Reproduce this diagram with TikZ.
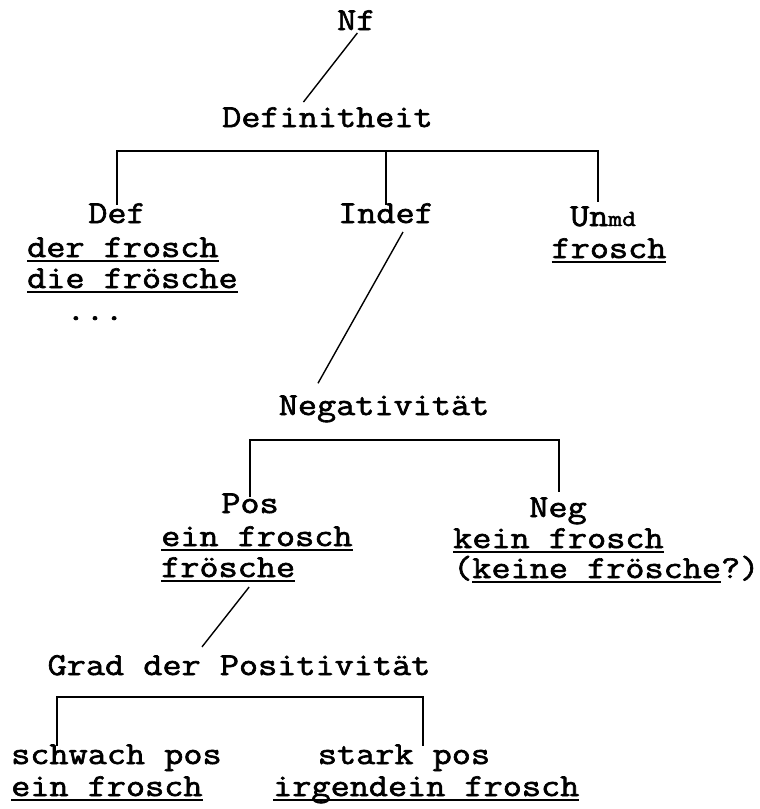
\documentclass[tikz,border=0pt]{standalone}
\usepackage{fontspec}
\newfontfamily\tw[FakeBold=2,FakeStretch=1.161]{Latin Modern Mono}
\newcommand\myul[1]{\setbox0=\hbox{#1}\rlap{\rule[-5pt]{\wd0}{1.6pt}}\box0}
\begin{document}
\begin{tikzpicture}[x=1pt,y=-1pt,
  tl/.style={inner sep=0pt,anchor=base west,font=\tw\fontsize{32}{33}\selectfont},
  tc/.style={inner sep=0pt,anchor=base,font=\tw\fontsize{32}{33}\selectfont},
  br/.style={line width=2.6pt},
  dg/.style={line width=1.4pt}]
\useasboundingbox (0,0) rectangle (760,809);
% nodes
\node[tl] (nf) at (337,30) {Nf};
\node[tl] (defh) at (222,127) {Definitheit};
\node[tc] (def) at (117,223) {Def};
\node[tl] (def1) at (27,257) {\myul{der frosch}};
\node[tl] (def2) at (27,288) {\myul{die frösche}};
\node[tc] (dots) at (95,320) {...};
\node[tc] (indef) at (386,223) {Indef};
\node[tc] (unmd) at (603,226) {Un{\fontsize{23}{23}\selectfont md}};
\node[tc] (unmd1) at (609,258) {\myul{frosch}};
\node[tc] (negh) at (384,415) {Negativität};
\node[tc] (pos) at (250,513) {Pos};
\node[tl] (pos1) at (161,546) {\myul{ein frosch}};
\node[tl] (pos2) at (161,577) {\myul{frösche}};
\node[tc] (neg) at (558,517) {Neg};
\node[tl] (neg1) at (453,548) {\myul{kein frosch}};
\node[tl] (neg2) at (453,578) {(\myul{keine frösche}?)};
\node[tc] (grad) at (239,675) {Grad der Positivität};
\node[tl] (schw) at (11,764) {schwach pos};
\node[tc] (stark) at (404,764) {stark pos};
\node[tl] (schw1) at (11,796) {\myul{ein frosch}};
\node[tl] (stark1) at (273,796) {\myul{irgendein frosch}};
% connectors
\draw[dg] ([shift={(1,3)}]nf.base) -- ([shift={(-24,-5)}]defh.north);
\coordinate (bar1) at (386,151);
\draw[br] ([yshift=-2pt]def.north) |- (bar1) -| ([shift={(-5,-4)}]unmd.north);
\draw[br] (bar1) -- ([yshift=-2pt]indef.north);
\draw[dg] ([shift={(17,9)}]indef.base) -- ([shift={(-66,-12)}]negh.north);
\coordinate (bar2) at (404,440);
\draw[br] ([yshift=-4pt]pos.north) |- (bar2) -| ([shift={(1,-5)}]neg.north);
\draw[dg] ([shift={(21,10)}]pos2.base) -- ([shift={(-37,-8)}]grad.north);
\coordinate (b3l) at (57,746);
\coordinate (b3r) at (423,746);
\coordinate (bar3) at (240,697);
\draw[br] (b3l) |- (bar3) -| (b3r);
\end{tikzpicture}
\end{document}
